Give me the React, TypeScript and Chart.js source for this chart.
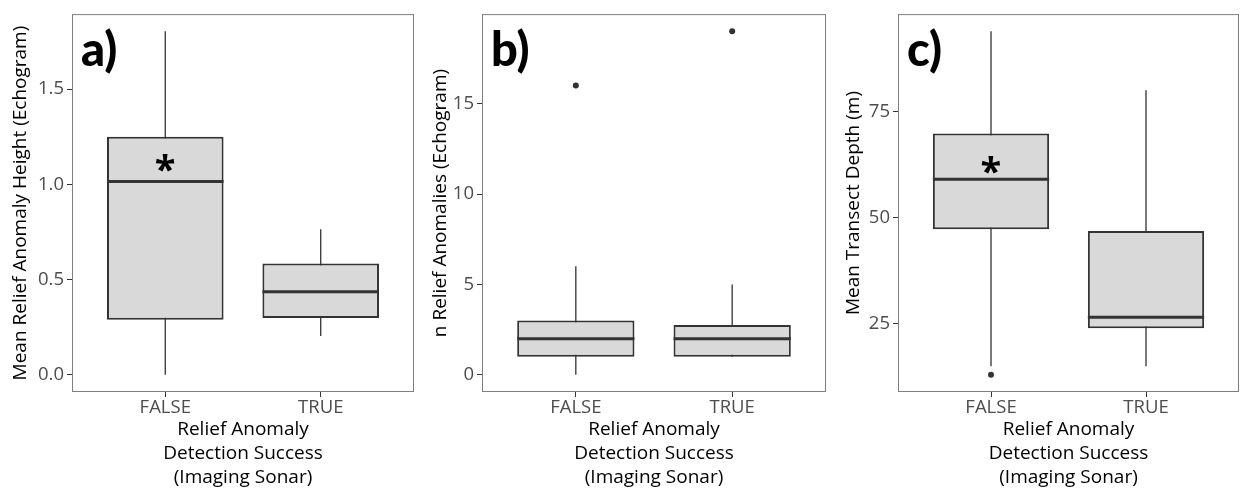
import React, { useEffect, useRef } from 'react';
import { Chart, registerables } from 'chart.js';

Chart.register(...registerables);

// ---- shared labels ----
const CATEGORIES = ['FALSE', 'TRUE'];
const CATEGORY_X = [1, 2];
const X_TITLE = ['Relief Anomaly', 'Detection Success', '(Imaging Sonar)'];

// ---- a) mean relief anomaly height ----
const HEIGHT_LOW = [0.0, 0.204];
const HEIGHT_Q1 = [0.289, 0.299];
const HEIGHT_MEDIAN = [1.015, 0.436];
const HEIGHT_Q3 = [1.25, 0.585];
const HEIGHT_HIGH = [1.804, 0.765];
const HEIGHT_OUTLIERS: number[][] = [[], []];
const HEIGHT_TICKS = [0, 0.5, 1.0, 1.5];
const HEIGHT_STAR = { x: 1, y: 1.11 };

// ---- b) number of relief anomalies ----
const COUNT_LOW = [0, 1];
const COUNT_Q1 = [1, 1];
const COUNT_MEDIAN = [2, 2];
const COUNT_Q3 = [3, 2.75];
const COUNT_HIGH = [6, 5];
const COUNT_OUTLIERS: number[][] = [[16], [19]];
const COUNT_TICKS = [0, 5, 10, 15];

// ---- c) mean transect depth ----
const DEPTH_LOW = [14.9, 14.9];
const DEPTH_Q1 = [47.25, 23.9];
const DEPTH_MEDIAN = [59.0, 26.5];
const DEPTH_Q3 = [69.8, 46.8];
const DEPTH_HIGH = [93.9, 80.0];
const DEPTH_OUTLIERS: number[][] = [[12.9], []];
const DEPTH_TICKS = [25, 50, 75];
const DEPTH_STAR = { x: 1, y: 62.4 };

const BOX_WIDTH = 0.75;
const FONT = '"Open Sans", "Noto Sans", sans-serif';
const CANVAS_H = 489;

type Panel = {
  letter: string;
  yTitle: string;
  low: number[];
  q1: number[];
  median: number[];
  q3: number[];
  high: number[];
  outliers: number[][];
  ticks: number[];
  decimals: number;
  star?: { x: number; y: number };
  left: number;
  width: number;
  axisWidth: number;
  padRight: number;
  titlePad: number;
};

const PANELS: Panel[] = [
  {
    letter: 'a)', yTitle: 'Mean Relief Anomaly Height (Echogram)',
    low: HEIGHT_LOW, q1: HEIGHT_Q1, median: HEIGHT_MEDIAN, q3: HEIGHT_Q3, high: HEIGHT_HIGH,
    outliers: HEIGHT_OUTLIERS, ticks: HEIGHT_TICKS, decimals: 1, star: HEIGHT_STAR,
    left: 0, width: 420, axisWidth: 72, padRight: 6, titlePad: 9,
  },
  {
    letter: 'b)', yTitle: 'n Relief Anomalies (Echogram)',
    low: COUNT_LOW, q1: COUNT_Q1, median: COUNT_MEDIAN, q3: COUNT_Q3, high: COUNT_HIGH,
    outliers: COUNT_OUTLIERS, ticks: COUNT_TICKS, decimals: 0,
    left: 420, width: 410, axisWidth: 62, padRight: 1, titlePad: 9,
  },
  {
    letter: 'c)', yTitle: 'Mean Transect Depth (m)',
    low: DEPTH_LOW, q1: DEPTH_Q1, median: DEPTH_MEDIAN, q3: DEPTH_Q3, high: DEPTH_HIGH,
    outliers: DEPTH_OUTLIERS, ticks: DEPTH_TICKS, decimals: 0, star: DEPTH_STAR,
    left: 830, width: 413, axisWidth: 68, padRight: 0, titlePad: 12,
  },
];

// Frame, panel letter and significance asterisk.
const decorations = {
  id: 'decorations',
  afterDatasetsDraw(chart: any, _args: any, opts: any) {
    const { ctx, chartArea, scales } = chart;
    const { left, top, right, bottom } = chartArea;
    ctx.save();
    ctx.strokeStyle = '#7f7f7f';
    ctx.lineWidth = 1;
    ctx.strokeRect(left + 0.5, top + 0.5, right - left - 1, bottom - top - 1);

    ctx.fillStyle = '#000000';
    ctx.textAlign = 'left';
    ctx.textBaseline = 'alphabetic';
    ctx.font = `900 47px Lato, ${FONT}`;
    ctx.fillText(opts.letter, left + 9, top + 52);

    if (opts.star) {
      ctx.font = `bold 38px ${FONT}`;
      const m = ctx.measureText('*');
      const px = scales.x.getPixelForValue(opts.star.x);
      const py = scales.y.getPixelForValue(opts.star.y);
      const w = m.actualBoundingBoxRight + m.actualBoundingBoxLeft;
      const h = m.actualBoundingBoxAscent + m.actualBoundingBoxDescent;
      ctx.fillText('*', px - w / 2 + m.actualBoundingBoxLeft, py + h / 2 - m.actualBoundingBoxDescent);
    }
    ctx.restore();
  },
};

function BoxPanel({ p }: { p: Panel }) {
  const ref = useRef<HTMLCanvasElement | null>(null);

  useEffect(() => {
    if (!ref.current) return;
    const all = [...p.low, ...p.high, ...p.outliers.flat()];
    const lo = Math.min(...all);
    const hi = Math.max(...all);
    const pad = (hi - lo) * 0.05;

    const boxes = CATEGORY_X.map((x, i) => ({ x, y: [p.q1[i], p.q3[i]] }));
    const whiskers: any[] = [];
    const medians: any[] = [];
    CATEGORY_X.forEach((x, i) => {
      if (i > 0) {
        whiskers.push({ x: x - 0.5, y: null });
        medians.push({ x: x - 0.5, y: null });
      }
      whiskers.push({ x, y: p.low[i] }, { x, y: p.high[i] });
      medians.push({ x: x - BOX_WIDTH / 2, y: p.median[i] }, { x: x + BOX_WIDTH / 2, y: p.median[i] });
    });
    const outliers = CATEGORY_X.flatMap((x, i) => p.outliers[i].map((v) => ({ x, y: v })));

    const chart = new Chart(ref.current, {
      type: 'bar',
      data: {
        datasets: [
          {
            type: 'line',
            data: medians,
            borderColor: '#333333',
            borderWidth: 3,
            borderCapStyle: 'butt',
            pointRadius: 0,
            spanGaps: false,
            order: 0,
          } as any,
          {
            type: 'line',
            data: outliers,
            showLine: false,
            pointRadius: 3,
            pointBackgroundColor: '#333333',
            pointBorderWidth: 0,
            order: 0,
          } as any,
          {
            type: 'bar',
            data: boxes,
            backgroundColor: '#D9D9D9',
            borderColor: '#333333',
            borderWidth: 2,
            borderSkipped: false,
            categoryPercentage: BOX_WIDTH,
            barPercentage: 1,
            order: 1,
          } as any,
          {
            type: 'line',
            data: whiskers,
            borderColor: '#333333',
            borderWidth: 1.3,
            pointRadius: 0,
            spanGaps: false,
            order: 2,
          } as any,
        ],
      },
      options: {
        responsive: false,
        animation: false,
        layout: { padding: { top: 14, right: p.padRight, left: 0, bottom: 0 } },
        plugins: {
          legend: { display: false },
          tooltip: { enabled: false },
          decorations: { letter: p.letter, star: p.star },
        } as any,
        scales: {
          x: {
            type: 'linear',
            min: 0.4,
            max: 2.6,
            offset: false,
            grid: { display: true, drawOnChartArea: false, drawTicks: true, tickLength: 5, color: '#333333', offset: false },
            border: { display: false },
            afterBuildTicks: (scale: any) => {
              scale.ticks = CATEGORY_X.map((v) => ({ value: v }));
            },
            afterFit: (scale: any) => {
              scale.height = CANVAS_H - 392;
            },
            ticks: {
              padding: 0,
              color: '#4D4D4D',
              font: { family: FONT, size: 18.5 },
              callback: (v: any) => CATEGORIES[CATEGORY_X.indexOf(Number(v))] ?? '',
            },
            title: {
              display: true,
              text: X_TITLE,
              color: '#000000',
              font: { family: FONT, size: 19, lineHeight: '23.8px' },
              padding: { top: 0, bottom: 0 },
            },
          },
          y: {
            type: 'linear',
            min: lo - pad,
            max: hi + pad,
            grid: { display: true, drawOnChartArea: false, drawTicks: true, tickLength: 5, color: '#333333' },
            border: { display: false },
            afterBuildTicks: (scale: any) => {
              scale.ticks = p.ticks.map((v) => ({ value: v }));
            },
            afterFit: (scale: any) => {
              scale.width = p.axisWidth;
            },
            ticks: {
              padding: 3,
              color: '#4D4D4D',
              font: { family: FONT, size: 18.5 },
              callback: (v: any) => Number(v).toFixed(p.decimals),
            },
            title: {
              display: true,
              text: p.yTitle,
              color: '#000000',
              font: { family: FONT, size: 19 },
              padding: { top: p.titlePad, bottom: 0 },
            },
          },
        },
      } as any,
      plugins: [decorations],
    });
    return () => chart.destroy();
  }, [p]);

  return (
    <canvas
      ref={ref}
      width={p.width}
      height={CANVAS_H}
      style={{ position: 'absolute', left: p.left, top: 0, width: p.width, height: CANVAS_H }}
    />
  );
}

export default function App() {
  return (
    <div style={{ position: 'absolute', left: 0, top: 0, width: 1243, height: CANVAS_H, background: '#ffffff' }}>
      {PANELS.map((p) => (
        <BoxPanel key={p.letter} p={p} />
      ))}
    </div>
  );
}
